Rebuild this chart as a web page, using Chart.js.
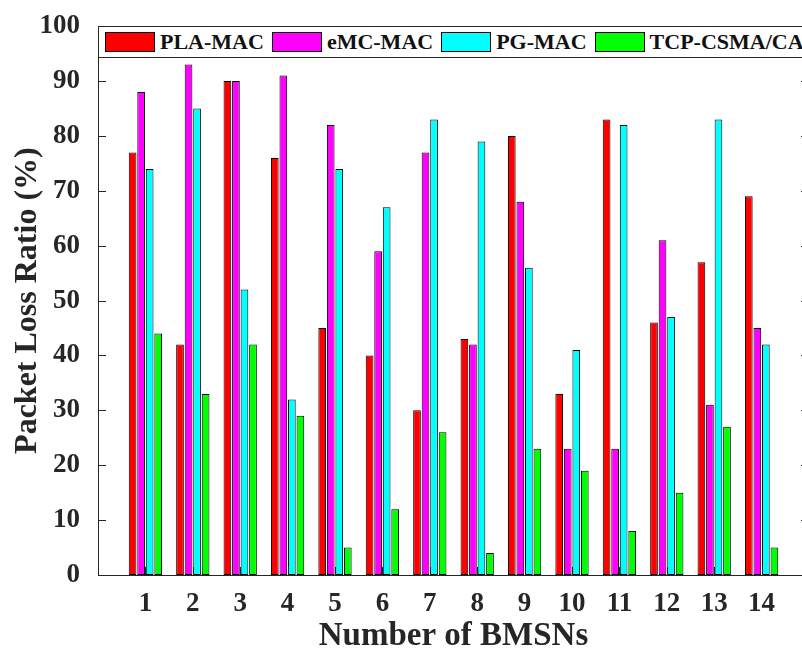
<!DOCTYPE html>
<html>
<head>
<meta charset="utf-8">
<script src="https://cdn.jsdelivr.net/npm/chart.js@4/dist/chart.umd.min.js"></script>
<style>
  html, body { margin: 0; padding: 0; background: #fff; overflow: hidden; }
  /* the canvas is a little wider than the page so the right edge of the axes box is cut off */
  #wrap { position: relative; width: 802px; height: 653px; overflow: hidden; }
  #bar-chart { display: block; }
  #legend {
    position: absolute; box-sizing: border-box; background: #fff;
    border: 1px solid #262626; display: flex; align-items: center;
    font: bold 22px "Liberation Serif", "Times New Roman", serif; color: #111;
    padding-left: 6px; white-space: nowrap;
  }
  #legend .sw { flex-shrink: 0; box-sizing: border-box; width: 50px; height: 20px; border: 1px solid #000; margin-right: 5px; }
  #legend .lb { flex-shrink: 0; margin-right: 8px; }
</style>
</head>
<body>
<div id="wrap">
  <canvas id="bar-chart" width="812" height="653"></canvas>
  <div id="legend"></div>
</div>
<script>
// Values
const categories = [1, 2, 3, 4, 5, 6, 7, 8, 9, 10, 11, 12, 13, 14];
const plaMac = [77, 42, 90, 76, 45, 40, 30, 43, 80, 33, 83, 46, 57, 69];
const emcMac = [88, 93, 90, 91, 82, 59, 77, 42, 68, 23, 23, 61, 31, 45];
const pgMac = [74, 85, 52, 32, 74, 67, 83, 79, 56, 41, 82, 47, 83, 42];
const tcpCsma = [44, 33, 42, 29, 5, 12, 26, 4, 23, 19, 8, 15, 27, 5];
const yTicks = [0, 10, 20, 30, 40, 50, 60, 70, 80, 90, 100];

const FONT = "'Liberation Serif', 'Times New Roman', serif";
const TEXT = "#262626";
const TICK = 8;

function series(label, values, color) {
  return {
    label: label,
    data: values.map((v, i) => ({ x: categories[i], y: v })),
    backgroundColor: color,
    borderColor: "#000",
    borderWidth: 1,
    borderSkipped: false,
    categoryPercentage: 0.72,
    barPercentage: 0.9,
  };
}

// box round the axes plus MATLAB style inward ticks
const axesBox = {
  id: "axesBox",
  afterDraw(chart) {
    const { ctx, chartArea: a, scales } = chart;
    ctx.save();
    ctx.strokeStyle = TEXT;
    ctx.lineWidth = 1;
    ctx.beginPath();
    yTicks.forEach((t) => {
      const y = Math.round(scales.y.getPixelForValue(t)) + 0.5;
      ctx.moveTo(a.left, y); ctx.lineTo(a.left + TICK, y);
      ctx.moveTo(a.right, y); ctx.lineTo(a.right - TICK, y);
    });
    categories.forEach((c) => {
      const x = Math.round(scales.x.getPixelForValue(c)) + 0.5;
      ctx.moveTo(x, a.bottom); ctx.lineTo(x, a.bottom - TICK);
      ctx.moveTo(x, a.top); ctx.lineTo(x, a.top + TICK);
    });
    ctx.stroke();
    ctx.strokeRect(Math.round(a.left) + 0.5, Math.round(a.top) + 0.5,
      Math.round(a.right - a.left), Math.round(a.bottom - a.top));
    ctx.restore();
  },
};

const config = {
  type: "bar",
  data: {
    datasets: [
      series("PLA-MAC", plaMac, "#ff0000"),
      series("eMC-MAC", emcMac, "#ff00ff"),
      series("PG-MAC", pgMac, "#00ffff"),
      series("TCP-CSMA/CA", tcpCsma, "#00ff00"),
    ],
  },
  options: {
    responsive: false,
    animation: false,
    layout: { padding: { top: 12, right: 3, left: 0, bottom: 0 } },
    plugins: { legend: { display: false }, tooltip: { enabled: false } },
    scales: {
      x: {
        type: "linear",
        min: 0,
        max: 15,
        offset: false,
        grid: { display: false },
        border: { display: false },
        afterFit: (s) => { s.height = 78; },
        afterBuildTicks: (s) => { s.ticks = categories.map((c) => ({ value: c })); },
        ticks: {
          autoSkip: false,
          maxRotation: 0,
          padding: 5,
          color: TEXT,
          font: { family: FONT, size: 27, weight: "bold" },
        },
        title: {
          display: true,
          text: "Number of BMSNs",
          color: TEXT,
          padding: { top: 0, bottom: 0 },
          font: { family: FONT, size: 33, weight: "bold", lineHeight: 1 },
        },
      },
      y: {
        min: 0,
        max: 100,
        grid: { display: false },
        border: { display: false },
        afterFit: (s) => { s.width = 98; },
        afterBuildTicks: (s) => { s.ticks = yTicks.map((t) => ({ value: t })); },
        ticks: {
          padding: 10,
          color: TEXT,
          font: { family: FONT, size: 27, weight: "bold" },
        },
        title: {
          display: true,
          text: "Packet Loss Ratio (%)",
          color: TEXT,
          padding: { top: 9, bottom: 0 },
          font: { family: FONT, size: 32, weight: "bold" },
        },
      },
    },
  },
  plugins: [axesBox],
};

const ctx = document.getElementById("bar-chart").getContext("2d");
const chart = new Chart(ctx, config);

// legend sits inside the top of the plot area, as in the reference
const a = chart.chartArea;
const legend = document.getElementById("legend");
legend.style.left = Math.round(a.left) + "px";
legend.style.top = Math.round(a.top) + "px";
legend.style.width = Math.round(a.right - a.left) + 1 + "px";
legend.style.height = "32px";
chart.data.datasets.forEach((ds) => {
  const sw = document.createElement("span");
  sw.className = "sw";
  sw.style.background = ds.backgroundColor;
  const lb = document.createElement("span");
  lb.className = "lb";
  lb.textContent = ds.label;
  legend.appendChild(sw);
  legend.appendChild(lb);
});
</script>
</body>
</html>
